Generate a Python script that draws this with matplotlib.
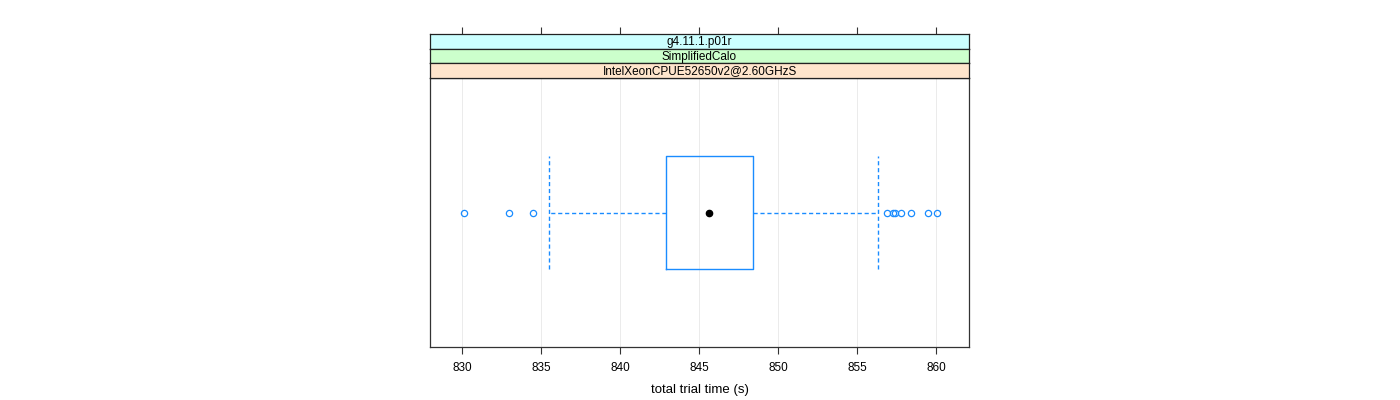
import matplotlib
matplotlib.use("Agg")
import matplotlib.pyplot as plt

plt.rcParams['font.family'] = ['Liberation Sans', 'DejaVu Sans']

# strip labels (top to bottom) and their colours
strip_labels = ["g4.11.1.p01r", "SimplifiedCalo", "IntelXeonCPUE52650v2@2.60GHzS"]
strip_colors = ["#ccffff", "#ccffcc", "#ffe5cc"]

# box summary for total trial time (s)
q1, med, q3 = 842.9, 845.6, 848.4
whislo, whishi = 835.5, 856.3
outliers = [830.1, 833.0, 834.5, 856.9, 857.3, 857.4, 857.8, 858.4, 859.5, 860.05]

xticks = [830, 835, 840, 845, 850, 855, 860]
blue = "#1a8cff"

fig = plt.figure(figsize=(14, 4), dpi=100)
ax = fig.add_axes([430/1400, 1-347/400, 539/1400, 269/400])

stats = [dict(q1=q1, med=med, q3=q3, whislo=whislo, whishi=whishi, fliers=outliers)]
ax.bxp(stats, positions=[1], widths=0.5, orientation='horizontal', showcaps=True,
       capwidths=0.5, patch_artist=False,
       boxprops=dict(color=blue, lw=1),
       whiskerprops=dict(color=blue, lw=1, ls=(0, (3, 2))),
       capprops=dict(color=blue, lw=1, ls=(0, (3, 2))),
       medianprops=dict(lw=0),
       flierprops=dict(marker='o', markerfacecolor='none', markeredgecolor=blue,
                       markersize=4.5, markeredgewidth=0.9))
ax.plot([med], [1], 'o', color='black', markersize=4.5)

ax.set_xlim(827.97, 862.09)
ax.set_ylim(0.4, 1.6)
ax.set_xticks(xticks)
ax.set_xticklabels([str(t) for t in xticks], fontsize=8.5)
ax.set_yticks([])
for t in xticks:
    ax.axvline(t, color='#ebebeb', lw=0.7, zorder=0)
ax.tick_params(axis='x', direction='out', length=5, width=0.8, color='#333333', pad=6)
for s in ax.spines.values():
    s.set_color('#333333')
    s.set_linewidth(0.9)
ax.set_xlabel("total trial time (s)", fontsize=9.5, labelpad=7)

# strips above the panel
strip_h = 14.6
top = 34
for i, (lab, col) in enumerate(zip(strip_labels, strip_colors)):
    y0 = top + i * strip_h
    sax = fig.add_axes([430/1400, 1-(y0+strip_h)/400, 539/1400, strip_h/400])
    sax.set_facecolor(col)
    sax.set_xlim(ax.get_xlim())
    sax.set_yticks([])
    for s in sax.spines.values():
        s.set_color('#222222')
        s.set_linewidth(0.9)
    if i == 0:
        sax.xaxis.tick_top()
        sax.set_xticks(xticks)
        sax.set_xticklabels([])
        sax.tick_params(axis='x', direction='out', length=5, width=0.8, color='#333333')
    else:
        sax.set_xticks([])
    sax.text(0.5, 0.45, lab, transform=sax.transAxes, ha='center', va='center', fontsize=8.5)

fig.savefig("out.png", dpi=100)
